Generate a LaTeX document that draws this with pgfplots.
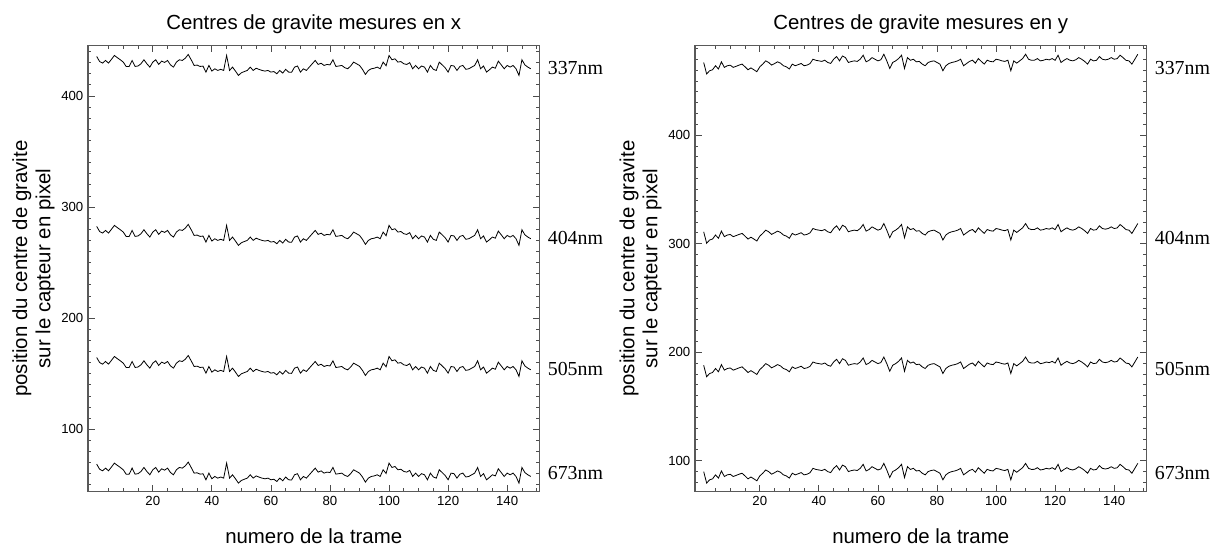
\documentclass[border=0pt]{standalone}
\usepackage{fontspec}
\setmainfont{Liberation Sans}
\newfontfamily\serif{Liberation Serif}
\usepackage{pgfplots}
\usepackage{pgfplotstable}
\pgfplotsset{compat=1.18}

\pgfplotstableread{
x a b c d
1 435.6 282.6 164.6 68.6
2 431 278 160 64
3 429.6 276.6 158.6 62.6
4 432 279 161 65
5 429.6 276.6 158.6 62.6
6 433 280 162 66
7 436.5 283.5 165.5 69.5
8 434.5 281.5 163.5 67.5
9 432.6 279.6 161.6 65.6
10 430.5 277.5 159.5 63.5
11 426.5 273.5 155.5 59.5
12 426.6 273.6 155.6 59.6
13 432 279 161 65
14 426.6 273.6 155.6 59.6
15 427 274 156 60
16 429 276 158 62
17 432.6 279.6 161.6 65.6
18 429 276 158 62
19 426 273 155 59
20 430.5 277.5 159.5 63.5
21 432.6 279.6 161.6 65.6
22 428.4 275.4 157.4 61.4
23 431.4 278.4 160.4 64.4
24 430.2 277.2 159.2 63.2
25 432 279 161 65
26 428 275 157 61
27 426 273 155 59
28 430.5 277.5 159.5 63.5
29 432.6 279.6 161.6 65.6
30 432 279 161 65
31 434 281 163 67
32 437.4 284.4 166.4 70.4
33 432.6 279.6 161.6 65.6
34 427.5 274.5 156.5 60.5
35 427.8 274.8 156.8 60.8
36 426.6 273.6 155.6 59.6
37 426.9 273.9 155.9 59.9
38 421.5 268.5 150.5 54.5
39 427.5 274.5 156.5 60.5
40 422.4 269.4 151.4 55.4
41 424.5 271.5 153.5 57.5
42 423 270 152 56
43 424 271 153 57
44 423 270 152 56
45 436.5 283.5 165.5 69.5
46 423 270 152 56
47 426 273 155 59
48 422.4 269.4 151.4 55.4
49 418.5 265.5 147.5 51.5
50 420.9 267.9 149.9 53.9
51 422 269 151 55
52 423 270 152 56
53 426 273 155 59
54 423 270 152 56
55 425 272 154 58
56 423.9 270.9 152.9 56.9
57 423 270 152 56
58 422.4 269.4 151.4 55.4
59 423 270 152 56
60 421.5 268.5 150.5 54.5
61 422 269 151 55
62 420 267 149 53
63 423 270 152 56
64 420.6 267.6 149.6 53.6
65 424 271 153 57
66 421.5 268.5 150.5 54.5
67 421.3 268.3 150.3 54.3
68 426 273 155 59
69 427 274 156 60
70 421.5 268.5 150.5 54.5
71 424.5 271.5 153.5 57.5
72 423 270 152 56
73 426 273 155 59
74 429 276 158 62
75 432 279 161 65
76 428.4 275.4 157.4 61.4
77 429.5 276.5 158.5 62.5
78 427.5 274.5 156.5 60.5
79 428.4 275.4 157.4 61.4
80 428 275 157 61
81 432.6 279.6 161.6 65.6
82 426.6 273.6 155.6 59.6
83 427 274 156 60
84 427.5 274.5 156.5 60.5
85 425.5 272.5 154.5 58.5
86 424.5 271.5 153.5 57.5
87 427 274 156 60
88 430.5 277.5 159.5 63.5
89 429 276 158 62
90 427.5 274.5 156.5 60.5
91 424 271 153 57
92 419.4 266.4 148.4 52.4
93 423 270 152 56
94 424.5 271.5 153.5 57.5
95 425 272 154 58
96 426 273 155 59
97 424.5 271.5 153.5 57.5
98 430.5 277.5 159.5 63.5
99 427.2 274.2 156.2 60.2
100 436.5 283.5 165.5 69.5
101 432.6 279.6 161.6 65.6
102 433.5 280.5 162.5 66.5
103 430.5 277.5 159.5 63.5
104 431 278 160 64
105 429 276 158 62
106 428.4 275.4 157.4 61.4
107 430 277 159 63
108 424.5 271.5 153.5 57.5
109 427.5 274.5 156.5 60.5
110 424.5 271.5 153.5 57.5
111 427 274 156 60
112 426 273 155 59
113 421.5 268.5 150.5 54.5
114 427.5 274.5 156.5 60.5
115 424 271 153 57
116 423 270 152 56
117 430.5 277.5 159.5 63.5
118 428 275 157 61
119 425.4 272.4 154.4 58.4
120 421.5 268.5 150.5 54.5
121 427.5 274.5 156.5 60.5
122 427 274 156 60
123 423 270 152 56
124 426.6 273.6 155.6 59.6
125 427.5 274.5 156.5 60.5
126 424 271 153 57
127 424.5 271.5 153.5 57.5
128 426 273 155 59
129 427.5 274.5 156.5 60.5
130 432.6 279.6 161.6 65.6
131 424.5 271.5 153.5 57.5
132 427 274 156 60
133 421.5 268.5 150.5 54.5
134 423.6 270.6 152.6 56.6
135 426 273 155 59
136 425 272 154 58
137 431.4 278.4 160.4 64.4
138 428 275 157 61
139 424.5 271.5 153.5 57.5
140 427.5 274.5 156.5 60.5
141 426 273 155 59
142 427.5 274.5 156.5 60.5
143 424.5 271.5 153.5 57.5
144 418.5 265.5 147.5 51.5
145 432.6 279.6 161.6 65.6
146 428 275 157 61
147 426 273 155 59
148 424.5 271.5 153.5 57.5
}\tabx

\pgfplotstableread{
x a b c d
1 467 311 188 90
2 456.4 300.4 177.4 79.4
3 459.4 303.4 180.4 82.4
4 460.3 304.3 181.3 83.3
5 464 308 185 87
6 461 305 182 84
7 467.6 311.6 188.6 90.6
8 462.5 306.5 183.5 85.5
9 464 308 185 87
10 464.5 308.5 185.5 87.5
11 462.5 306.5 183.5 85.5
12 463.5 307.5 184.5 86.5
13 464.6 308.6 185.6 87.6
14 465.5 309.5 186.5 88.5
15 463 307 184 86
16 460.3 304.3 181.3 83.3
17 462 306 183 85
18 460.3 304.3 181.3 83.3
19 458.5 302.5 179.5 81.5
20 463 307 184 86
21 465.5 309.5 186.5 88.5
22 468.5 312.5 189.5 91.5
23 467 311 188 90
24 464.6 308.6 185.6 87.6
25 466 310 187 89
26 467.6 311.6 188.6 90.6
27 466.4 310.4 187.4 89.4
28 464 308 185 87
29 463 307 184 86
30 461 305 182 84
31 465.5 309.5 186.5 88.5
32 464 308 185 87
33 465 309 186 88
34 466.1 310.1 187.1 89.1
35 464 308 185 87
36 464.6 308.6 185.6 87.6
37 466 310 187 89
38 470 314 191 93
39 469 313 190 92
40 468.5 312.5 189.5 91.5
41 468 312 189 91
42 469.1 313.1 190.1 92.1
43 467 311 188 90
44 466.1 310.1 187.1 89.1
45 470 314 191 93
46 472.5 316.5 193.5 95.5
47 468.5 312.5 189.5 91.5
48 473 317 194 96
49 471.5 315.5 192.5 94.5
50 467 311 188 90
51 467.9 311.9 188.9 90.9
52 468.5 312.5 189.5 91.5
53 468 312 189 91
54 470 314 191 93
55 473.7 317.7 194.7 96.7
56 467.6 311.6 188.6 90.6
57 469 313 190 92
58 471.5 315.5 192.5 94.5
59 470 314 191 93
60 468.5 312.5 189.5 91.5
61 469.5 313.5 190.5 92.5
62 474.6 318.6 195.6 97.6
63 468.5 312.5 189.5 91.5
64 461.5 305.5 182.5 84.5
65 467 311 188 90
66 468.5 312.5 189.5 91.5
67 470.6 314.6 191.6 93.6
68 473.7 317.7 194.7 96.7
69 461.5 305.5 182.5 84.5
70 471.5 315.5 192.5 94.5
71 469 313 190 92
72 470 314 191 93
73 467.6 311.6 188.6 90.6
74 468 312 189 91
75 465.5 309.5 186.5 88.5
76 464 308 185 87
77 467 311 188 90
78 468 312 189 91
79 468.5 312.5 189.5 91.5
80 467 311 188 90
81 465.5 309.5 186.5 88.5
82 459.4 303.4 180.4 82.4
83 464 308 185 87
84 466 310 187 89
85 467 311 188 90
86 467.6 311.6 188.6 90.6
87 468.5 312.5 189.5 91.5
88 470 314 191 93
89 464 308 185 87
90 466 310 187 89
91 468 312 189 91
92 469.1 313.1 190.1 92.1
93 466.4 310.4 187.4 89.4
94 470.6 314.6 191.6 93.6
95 468 312 189 91
96 465.5 309.5 186.5 88.5
97 469.1 313.1 190.1 92.1
98 468 312 189 91
99 467.6 311.6 188.6 90.6
100 470 314 191 93
101 469.4 313.4 190.4 92.4
102 468.5 312.5 189.5 91.5
103 468 312 189 91
104 469.1 313.1 190.1 92.1
105 459.4 303.4 180.4 82.4
106 468.5 312.5 189.5 91.5
107 466.4 310.4 187.4 89.4
108 468.5 312.5 189.5 91.5
109 470.6 314.6 191.6 93.6
110 474.6 318.6 195.6 97.6
111 470 314 191 93
112 469 313 190 92
113 469.1 313.1 190.1 92.1
114 470.6 314.6 191.6 93.6
115 468.5 312.5 189.5 91.5
116 469 313 190 92
117 470 314 191 93
118 469.4 313.4 190.4 92.4
119 470.6 314.6 191.6 93.6
120 469 313 190 92
121 473.7 317.7 194.7 96.7
122 467 311 188 90
123 469 313 190 92
124 470.6 314.6 191.6 93.6
125 469.1 313.1 190.1 92.1
126 468.5 312.5 189.5 91.5
127 469.5 313.5 190.5 92.5
128 471.5 315.5 192.5 94.5
129 470 314 191 93
130 468 312 189 91
131 465.5 309.5 186.5 88.5
132 470 314 191 93
133 468.5 312.5 189.5 91.5
134 469 313 190 92
135 472.5 316.5 193.5 95.5
136 470 314 191 93
137 469.4 313.4 190.4 92.4
138 470 314 191 93
139 471.5 315.5 192.5 94.5
140 470 314 191 93
141 470.5 314.5 191.5 93.5
142 473.7 317.7 194.7 96.7
143 471.5 315.5 192.5 94.5
144 469 313 190 92
145 468.5 312.5 189.5 91.5
146 465.5 309.5 186.5 88.5
147 470 314 191 93
148 474.6 318.6 195.6 97.6
}\taby

\tikzset{
  nmlab/.style={anchor=west, font=\serif\fontsize{14.9}{15}\selectfont, inner sep=0pt},
  dline/.style={black, line width=0.6pt, mark=none},
}

\pgfplotsset{
  myaxis/.style={
    scale only axis,
    clip=false,
    width=338.6pt, height=334.5pt,
    anchor=south west,
    xmin=-1.94, xmax=150.94,
    xtick={20,40,...,140},
    minor xtick={5,10,...,150},
    ytick={100,200,300,400},
    tick align=inside,
    major tick length=5pt,
    minor tick length=2.5pt,
    tick style={draw=black!70, line width=0.6pt},
    axis line style={draw=black!65, line width=0.9pt},
    /pgf/number format/assume math mode=true,
    ticklabel style={font=\fontsize{9.9}{11}\selectfont},
    title style={at={(0.5,1)}, anchor=base, yshift=6.2pt, font=\fontsize{15.3}{17}\selectfont},
    xlabel style={at={(axis description cs:0.5,0)}, anchor=base, yshift=-38.5pt, font=\fontsize{15.3}{17}\selectfont},
    ylabel style={at={(axis description cs:-0.1207,0.5)}, anchor=center, align=center, font=\fontsize{15.3}{17.3}\selectfont},
    xlabel={numero de la trame},
    ylabel={position du centre de gravite\\sur le capteur en pixel},
  },
}

\begin{document}
\begin{tikzpicture}
\path[use as bounding box] (0,0) rectangle (909pt,413.25pt);
\begin{axis}[myaxis, at={(66pt,44.5pt)},
  ymin=43.8, ymax=445.3,
  minor ytick={50,60,...,440},
  title={Centres de gravite mesures en x}]
\addplot[dline] table[x=x,y=a] {\tabx};
\addplot[dline] table[x=x,y=b] {\tabx};
\addplot[dline] table[x=x,y=c] {\tabx};
\addplot[dline] table[x=x,y=d] {\tabx};
\node[nmlab] at (axis description cs:1.018,0.950) {337nm};
\node[nmlab] at (axis description cs:1.018,0.569) {404nm};
\node[nmlab] at (axis description cs:1.018,0.275) {505nm};
\node[nmlab] at (axis description cs:1.018,0.042) {673nm};
\end{axis}
\begin{axis}[myaxis, at={(521.25pt,44.5pt)},
  ymin=71.5, ymax=482.5,
  minor ytick={80,90,...,480},
  title={Centres de gravite mesures en y}]
\addplot[dline] table[x=x,y=a] {\taby};
\addplot[dline] table[x=x,y=b] {\taby};
\addplot[dline] table[x=x,y=c] {\taby};
\addplot[dline] table[x=x,y=d] {\taby};
\node[nmlab] at (axis description cs:1.018,0.950) {337nm};
\node[nmlab] at (axis description cs:1.018,0.569) {404nm};
\node[nmlab] at (axis description cs:1.018,0.275) {505nm};
\node[nmlab] at (axis description cs:1.018,0.042) {673nm};
\end{axis}
\end{tikzpicture}
\end{document}
